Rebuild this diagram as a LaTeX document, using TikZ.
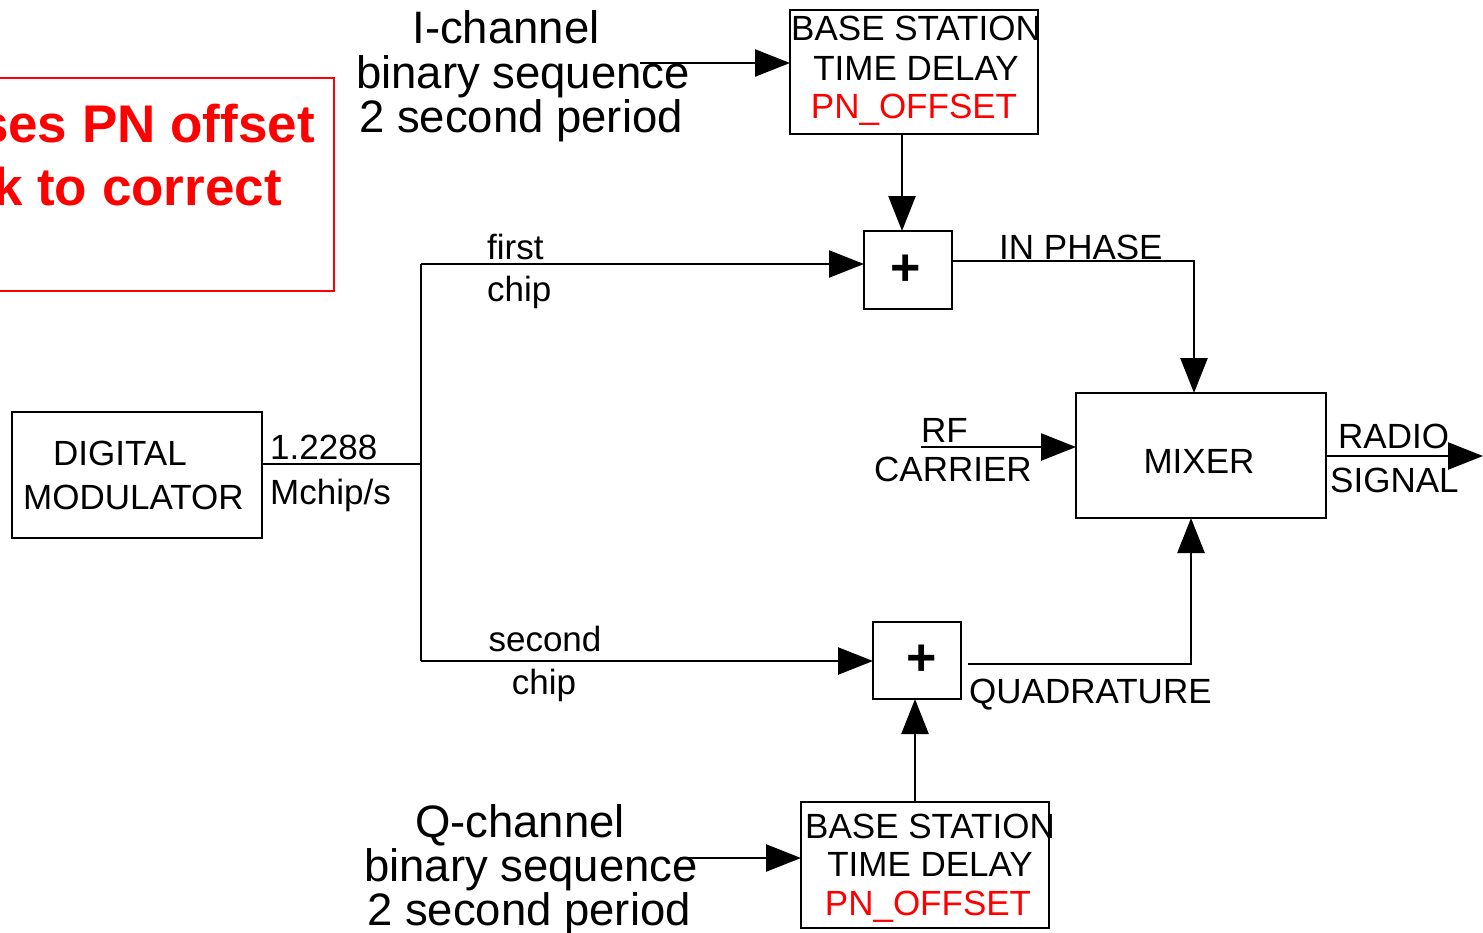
\documentclass[tikz,border=0pt]{standalone}
\usepackage{fontspec}
\setmainfont{Liberation Sans}
\usetikzlibrary{arrows.meta}
\begin{document}
\begin{tikzpicture}[x=1pt,y=-1pt,
  blk/.style={draw,line width=2.5pt,inner sep=0pt,outer sep=0pt},
  ln/.style={line width=2.5pt},
  arr/.style={ln,-{Triangle[length=35pt,width=27pt]}},
  t34/.style={inner sep=0pt,font=\fontsize{35}{40}\selectfont},
  t44/.style={inner sep=0pt,font=\fontsize{45.5}{45}\selectfont},
  tred/.style={inner sep=0pt,text=red,font=\bfseries\fontsize{53}{64}\selectfont},
  plus/.style={inner sep=0pt,font=\bfseries\fontsize{52}{52}\selectfont}]
\useasboundingbox (0,0) rectangle (1483,932);

% red note box (cut by left border)
\draw[red,line width=1.5pt] (-20,78) rectangle (334,291);
\node[tred,anchor=base east] (n1) at (315,142) {ses PN offset};
\node[tred,anchor=base east] (n2) at (282,205) {k to correct};

% blocks
\node[blk,minimum width=248pt,minimum height=124pt] (bs1) at (914,72) {};
\node[blk,minimum width=248pt,minimum height=126pt] (bs2) at (925,865) {};
\node[blk,minimum width=88pt,minimum height=78pt] (add1) at (908,270) {};
\node[blk,minimum width=88pt,minimum height=77pt] (add2) at (917,660.5) {};
\node[blk,minimum width=250pt,minimum height=126pt] (mod) at (137,475) {};
\node[blk,minimum width=250pt,minimum height=125pt] (mix) at (1201,455.5) {};

% block texts
\node[t34,anchor=base] (bs1a) at (916,40) {BASE STATION};
\node[t34,anchor=base] (bs1b) at (916,80) {TIME DELAY};
\node[t34,anchor=base,text=red] (bs1c) at (914,118) {PN\_OFFSET};
\node[t34,anchor=base] (bs2a) at (930,838) {BASE STATION};
\node[t34,anchor=base] (bs2b) at (930,876) {TIME DELAY};
\node[t34,anchor=base,text=red] (bs2c) at (928,915) {PN\_OFFSET};
\node[plus] (p1) at (906,270) {+};
\node[plus] (p2) at (922,660) {+};
\node[t34,anchor=base west] (m1) at (53,465) {DIGITAL};
\node[t34,anchor=base west] (m2) at (23,509) {MODULATOR};
\node[t34,anchor=base] (mx) at (1199,473) {MIXER};

% channel texts
\node[t44,anchor=base] (ic1) at (506,43) {I-channel};
\node[t44,anchor=base] (ic2) at (523,88) {binary sequence};
\node[t44,anchor=base] (ic3) at (521,132) {2 second period};
\node[t44,anchor=base] (qc1) at (520,837) {Q-channel};
\node[t44,anchor=base] (qc2) at (531,881) {binary sequence};
\node[t44,anchor=base] (qc3) at (529,925) {2 second period};

% connector labels
\node[t34,anchor=base west] (l1) at (487,259) {first};
\node[t34,anchor=base west] (l2) at (487,301) {chip};
\node[t34,anchor=base west] (l3) at (270,459) {1.2288};
\node[t34,anchor=base west] (l4) at (270,504) {Mchip/s};
\node[t34,anchor=base] (l5) at (545,651) {second};
\node[t34,anchor=base] (l6) at (544,694) {chip};
\node[t34,anchor=base west] (l7) at (999,259) {IN PHASE};
\node[t34,anchor=base west] (l8) at (921,442) {RF};
\node[t34,anchor=base west] (l9) at (874,481) {CARRIER};
\node[t34,anchor=base west] (l10) at (1338,448) {RADIO};
\node[t34,anchor=base west] (l11) at (1330,492) {SIGNAL};
\node[t34,anchor=base west] (l12) at (969,703) {QUADRATURE};

% connector points
\coordinate (ia) at (640,63);
\coordinate (qa) at (680,858);
\coordinate (b0) at (421,464);
\coordinate (b1) at (421,264);
\coordinate (b2) at (421,661);
\coordinate (ip) at (1194,261);
\coordinate (qp) at (1191,664);
\coordinate (qs) at (968,664);
\coordinate (rf) at (921,447);
\coordinate (ro) at (1483,456);
\coordinate (v1) at (902,0);
\coordinate (v2) at (915,0);

% connectors
\draw[arr] (ia) -- (ia -| bs1.west);
\draw[arr] (qa) -- (qa -| bs2.west);
\draw[arr] (bs1.south -| v1) -- (add1.north -| v1);
\draw[arr] (bs2.north -| v2) -- (add2.south -| v2);
\draw[ln] (mod.east |- b0) -- (b0);
\draw[ln] (b1) -- (b2);
\draw[arr] (b1) -- (b1 -| add1.west);
\draw[arr] (b2) -- (b2 -| add2.west);
\draw[arr] (add1.east |- ip) -- (ip) -- (ip |- mix.north);
\draw[arr] (qs) -- (qp) -- (qp |- mix.south);
\draw[arr] (rf) -- (rf -| mix.west);
\draw[arr] (mix.east |- ro) -- (ro);
\end{tikzpicture}
\end{document}
